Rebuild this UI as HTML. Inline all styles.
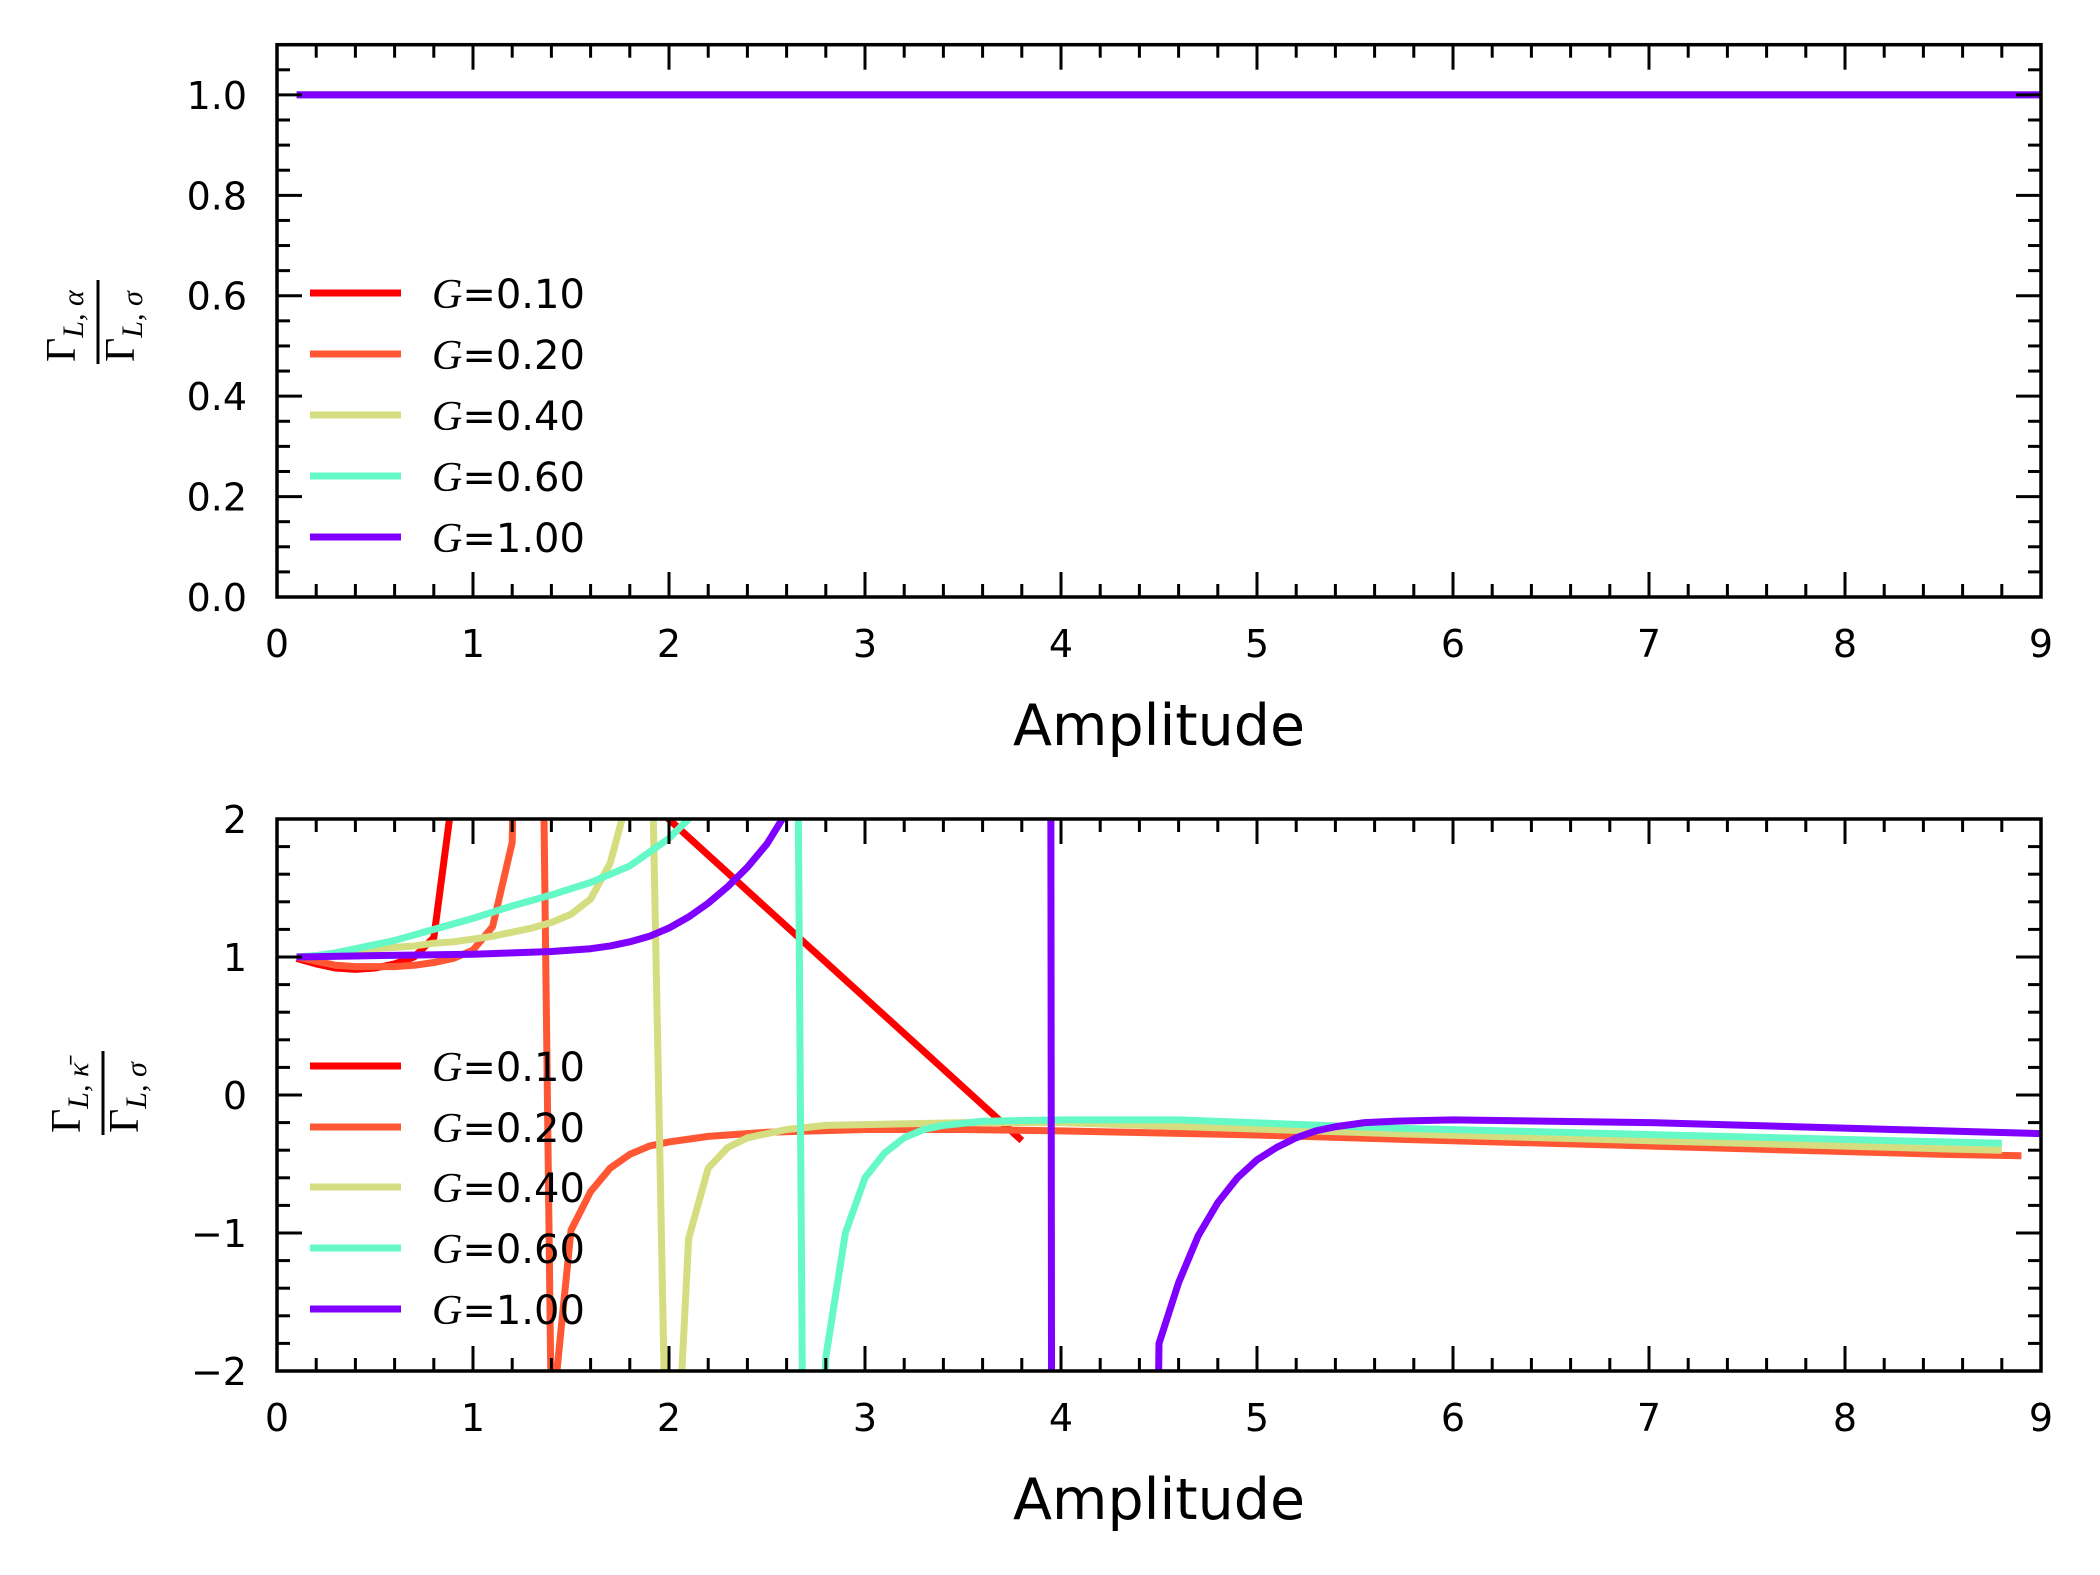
<!DOCTYPE html>
<html><head><meta charset="utf-8"><style>
html,body{margin:0;padding:0;background:#fff;width:2100px;height:1575px;overflow:hidden;}
svg{display:block;}
text{font-family:"DejaVu Sans","Liberation Sans",sans-serif;fill:#000;}
.ser{font-family:"Liberation Serif","DejaVu Serif",serif;}
</style></head><body>
<svg id="fig" width="2100" height="1575" viewBox="0 0 2100 1575" xmlns="http://www.w3.org/2000/svg">
<defs>
<clipPath id="clipTop"><rect x="277" y="44.7" width="1764" height="552.3"/></clipPath>
<clipPath id="clipBot"><rect x="277" y="819" width="1764" height="552"/></clipPath>
</defs>
<g id="top"></g>
<g id="bot"></g>

<g transform="translate(98,322) rotate(-90)">
  <line x1="-42" y1="0" x2="42" y2="0" stroke="#000" stroke-width="3"/>
  <text class="ser" x="-40" y="-23" font-size="42">Γ<tspan font-style="italic" font-size="30" dy="8">L, α</tspan></text>
  <text class="ser" x="-40" y="36" font-size="42">Γ<tspan font-style="italic" font-size="30" dy="8">L, σ</tspan></text>
</g>
<g transform="translate(103,1093) rotate(-90)">
  <line x1="-42" y1="0" x2="42" y2="0" stroke="#000" stroke-width="3"/>
  <text class="ser" x="-40" y="-23" font-size="42">Γ<tspan font-style="italic" font-size="30" dy="8">L, κ̄</tspan></text>
  <text class="ser" x="-40" y="35" font-size="42">Γ<tspan font-style="italic" font-size="30" dy="8">L, σ</tspan></text>
</g>
<text x="1159" y="745" font-size="57" text-anchor="middle">Amplitude</text>
<text x="1159" y="1519" font-size="57" text-anchor="middle">Amplitude</text>
</svg>
<script>
// ---- data ----
const seriesLabels = ["G=0.10","G=0.20","G=0.40","G=0.60","G=1.00"];
const seriesColors = ["#ff0000","#ff5733","#d4dd80","#64f9c6","#8000ff"];
const xTickLabels = ["0","1","2","3","4","5","6","7","8","9"];
const topYTickLabels = ["0.0","0.2","0.4","0.6","0.8","1.0"];
const botYTickLabels = ["\u22122","\u22121","0","1","2"];

const topX = [0.1, 9.0];
const topY = [1.0, 1.0];

const redX = [0.1,0.2,0.3,0.4,0.5,0.6,0.7,0.8,1.0,3.8];
const redY = [0.99,0.95,0.92,0.91,0.92,0.95,1.0,1.14,3.29,-0.33];

const orangeX = [0.1,0.2,0.3,0.4,0.5,0.6,0.7,0.8,0.9,1.0,1.1,1.2,1.3,1.4,1.5,1.6,1.7,1.8,1.9,2.0,2.2,2.5,3.0,3.5,4.0,5.0,5.7,7.0,8.5,8.9];
const orangeY = [1.0,0.97,0.94,0.93,0.93,0.93,0.94,0.96,0.99,1.05,1.22,1.83,9.3,-2.4,-0.98,-0.70,-0.53,-0.43,-0.37,-0.34,-0.30,-0.27,-0.25,-0.25,-0.26,-0.29,-0.32,-0.37,-0.43,-0.44];

const yellowX = [0.1,0.2,0.3,0.4,0.5,0.6,0.7,0.8,0.9,1.0,1.1,1.2,1.3,1.4,1.5,1.6,1.7,1.8,1.9,2.0,2.1,2.2,2.3,2.4,2.6,2.8,3.5,4.0,5.7,8.5,8.8];
const yellowY = [1.0,1.01,1.02,1.04,1.06,1.07,1.08,1.10,1.11,1.13,1.15,1.18,1.21,1.25,1.31,1.42,1.68,2.21,3.46,-3.84,-1.04,-0.53,-0.38,-0.31,-0.25,-0.22,-0.20,-0.20,-0.28,-0.39,-0.40];

const cyanX = [0.1,0.2,0.3,0.4,0.6,0.8,1.0,1.2,1.4,1.6,1.8,1.9,2.0,2.1,2.3,2.6,2.7,2.8,2.9,3.0,3.1,3.2,3.3,3.4,3.6,4.0,4.6,5.7,8.5,8.8];
const cyanY = [1.0,1.01,1.03,1.06,1.12,1.20,1.28,1.37,1.45,1.54,1.66,1.76,1.86,2.0,3.0,14,-6,-1.9,-1.0,-0.6,-0.42,-0.31,-0.25,-0.22,-0.19,-0.18,-0.18,-0.24,-0.34,-0.35];

const purpleX = [0.1,0.5,1.0,1.2,1.4,1.5,1.6,1.7,1.8,1.9,2.0,2.1,2.2,2.3,2.4,2.5,2.6,3.0,3.5,3.9,4.0,4.5,4.6,4.7,4.8,4.9,5.0,5.1,5.2,5.3,5.4,5.55,5.7,6.0,7.0,8.5,9.0];
const purpleY = [1.0,1.01,1.02,1.03,1.04,1.05,1.06,1.08,1.11,1.15,1.21,1.29,1.39,1.51,1.65,1.82,2.05,5,12,60,-60,-1.8,-1.36,-1.02,-0.78,-0.60,-0.47,-0.38,-0.31,-0.26,-0.23,-0.20,-0.19,-0.18,-0.20,-0.26,-0.28];

const botXs = [redX, orangeX, yellowX, cyanX, purpleX];
const botYs = [redY, orangeY, yellowY, cyanY, purpleY];

// ---- geometry ----
const NS = "http://www.w3.org/2000/svg";
const L = 277, R = 2041;
const xs = v => L + (v - 0) / 9 * (R - L);
const topT = 44.7, topB = 597;
const ysTop = v => topB - (v - 0) / 1.1 * (topB - topT);
const botT = 819, botB = 1371;
const ysBot = v => botB - (v + 2) / 4 * (botB - botT);

function mk(tag, attrs, parent) {
  const e = document.createElementNS(NS, tag);
  for (const k in attrs) e.setAttribute(k, attrs[k]);
  parent.appendChild(e);
  return e;
}

function drawPanel(g, yScale, T, B, yMin, yMax, yMajorStep, yMinorStep, yLabels, clipId, xsArr, ysArr, legendRows, panelName) {
  const sg = mk("g", {"clip-path": "url(#" + clipId + ")"}, g);
  
  
  for (let s = 0; s < xsArr.length; s++) {
    const xa = xsArr[s], ya = ysArr[s];
    let d = "";
    for (let i = 0; i < xa.length; i++) d += (i ? "L" : "M") + xs(xa[i]).toFixed(2) + " " + yScale(ya[i]).toFixed(2);
    const p = mk("path", {d: d, fill: "none", stroke: seriesColors[s], "stroke-width": 7, "stroke-linejoin": "round"}, sg);
    
    
  }
  const tg = mk("g", {stroke: "#000", "stroke-width": 3}, g);
  
  
  for (let i = 0; i <= 45; i++) {
    const v = i * 0.2, x = xs(v);
    const len = (i % 5 === 0) ? 25 : 13;
    if (i === 0 || i === 45) continue;
    mk("line", {x1: x, y1: B, x2: x, y2: B - len}, tg);
    mk("line", {x1: x, y1: T, x2: x, y2: T + len}, tg);
  }
  const nMinor = Math.round((yMax - yMin) / yMinorStep);
  const ratio = Math.round(yMajorStep / yMinorStep);
  for (let i = 1; i < nMinor + (yMax - yMin > 2 ? 0 : 1); i++) {
    const v = yMin + i * yMinorStep;
    if (v > yMax + 1e-9) break;
    const y = yScale(v);
    const len = (i % ratio === 0) ? 25 : 13;
    mk("line", {x1: L, y1: y, x2: L + len, y2: y}, tg);
    mk("line", {x1: R, y1: y, x2: R - len, y2: y}, tg);
  }
  const fr = mk("rect", {x: L, y: T, width: R - L, height: B - T, fill: "none", stroke: "#000", "stroke-width": 3.5}, g);
  
  
  for (let i = 0; i < xTickLabels.length; i++) {
    const t = mk("text", {x: xs(i), y: B + 60, "font-size": 38, "text-anchor": "middle"}, g);
    t.textContent = xTickLabels[i];
    
    
  }
  for (let i = 0; i < yLabels.length; i++) {
    const v = yMin + i * yMajorStep;
    const t = mk("text", {x: 247, y: yScale(v) + 14, "font-size": 38, "text-anchor": "end"}, g);
    t.textContent = yLabels[i];
    
    
  }
  const lg = mk("g", {}, g);
  
  
  for (let s = 0; s < seriesLabels.length; s++) {
    const y = legendRows[s];
    const e = mk("g", {}, lg);
    
    
    mk("line", {x1: 310, y1: y, x2: 401, y2: y, stroke: seriesColors[s], "stroke-width": 7}, e);
    const t = mk("text", {x: 432, y: y + 15, "font-size": 40}, e);
    const g1 = mk("tspan", {"font-family": "Liberation Serif, serif", "font-style": "italic", "font-size": 42}, t);
    g1.textContent = "G";
    const g2 = mk("tspan", {}, t);
    g2.textContent = seriesLabels[s].slice(1);
  }
}

drawPanel(document.getElementById("top"), ysTop, topT, topB, 0, 1.1, 0.2, 0.05, topYTickLabels, "clipTop",
  [topX, topX, topX, topX, topX], [topY, topY, topY, topY, topY], [293, 354, 415, 476, 537], "top");
drawPanel(document.getElementById("bot"), ysBot, botT, botB, -2, 2, 1, 0.2, botYTickLabels, "clipBot",
  botXs, botYs, [1066, 1127, 1187, 1248, 1309], "bottom");
</script>
</body></html>
